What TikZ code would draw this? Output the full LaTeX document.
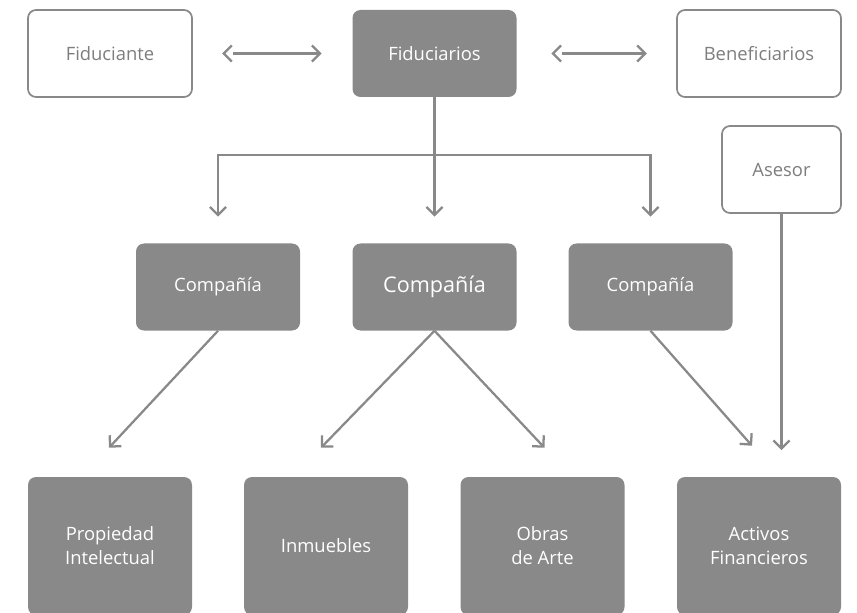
\documentclass[tikz,border=0pt]{standalone}
\usepackage{fontspec}
\setmainfont{Open Sans}
\usetikzlibrary{positioning, calc, arrows.meta}
\definecolor{boxgray}{HTML}{898989}
\definecolor{txtgray}{HTML}{7E7E7E}

\begin{document}
\begin{tikzpicture}[x=0.75pt, y=-0.75pt,
  filledbox/.style={fill=boxgray, rounded corners=6pt, text=white, font=\fontsize{13.8}{18}\selectfont, align=center, minimum width=123pt, minimum height=65.25pt, inner sep=0pt},
  outlinebox/.style={draw=boxgray, line width=1.3pt, fill=white, rounded corners=6pt, text=txtgray, font=\fontsize{13.8}{18}\selectfont, minimum width=123pt, minimum height=65.25pt, inner sep=0pt},
  link/.style={draw=boxgray, line width=1.7pt, -{Straight Barb[angle'=90, length=6pt].}},
  dlink/.style={draw=boxgray, line width=1.7pt, {Straight Barb[angle'=90, length=6pt].}-{Straight Barb[angle'=90, length=6pt].}}]
  \clip (0,0) rectangle (857,613);
  % top row
  \node[outlinebox] (fiduciante) at (110,53.5) {Fiduciante};
  \node[filledbox] (fiduciarios) at (434.5,53.5) {Fiduciarios};
  \node[outlinebox] (beneficiarios) at (759,53.5) {Beneficiarios};
  \node[outlinebox, minimum width=89.25pt] (asesor) at (781.5,169.5) {Asesor};
  \draw[dlink, shorten <=22pt, shorten >=23pt] (fiduciante) -- (fiduciarios);
  \draw[dlink, shorten <=26pt, shorten >=22pt] (fiduciarios) -- (beneficiarios);
  % companies
  \node[filledbox] (compA) at (218,287) {Compañía};
  \node[filledbox, font=\fontsize{16.2}{18}\selectfont] (compB) at (434.5,287) {Compañía};
  \node[filledbox] (compC) at (650.5,287) {Compañía};
  \coordinate (bus) at (434.5,155);
  \draw[draw=boxgray, line width=1.7pt] (fiduciarios.south) -- (bus);
  \foreach \c in {compA, compB, compC}
    \draw[link, shorten >=20pt] (bus) -| (\c.north);
  % assets
  \node[filledbox, minimum height=103.5pt] (propiedad) at (110,546) {Propiedad\\Intelectual};
  \node[filledbox, minimum height=103.5pt] (inmuebles) at (326,546) {Inmuebles};
  \node[filledbox, minimum height=103.5pt] (obras) at (542.5,546) {Obras\\de Arte};
  \node[filledbox, minimum height=103.5pt] (activos) at (759,546) {Activos\\Financieros};
  \draw[link] (compA.south) -- ($(propiedad.north)+(-1,-29)$);
  \draw[link] (compB.south) -- ($(inmuebles.north)+(-5,-29)$);
  \draw[link] (compB.south) -- ($(obras.north)+(2,-29)$);
  \draw[link] (compC.south) -- ($(activos.north)+(-7,-31)$);
  \draw[link, shorten >=20pt] (asesor.south) -- (asesor.south |- activos.north);
\end{tikzpicture}
\end{document}
